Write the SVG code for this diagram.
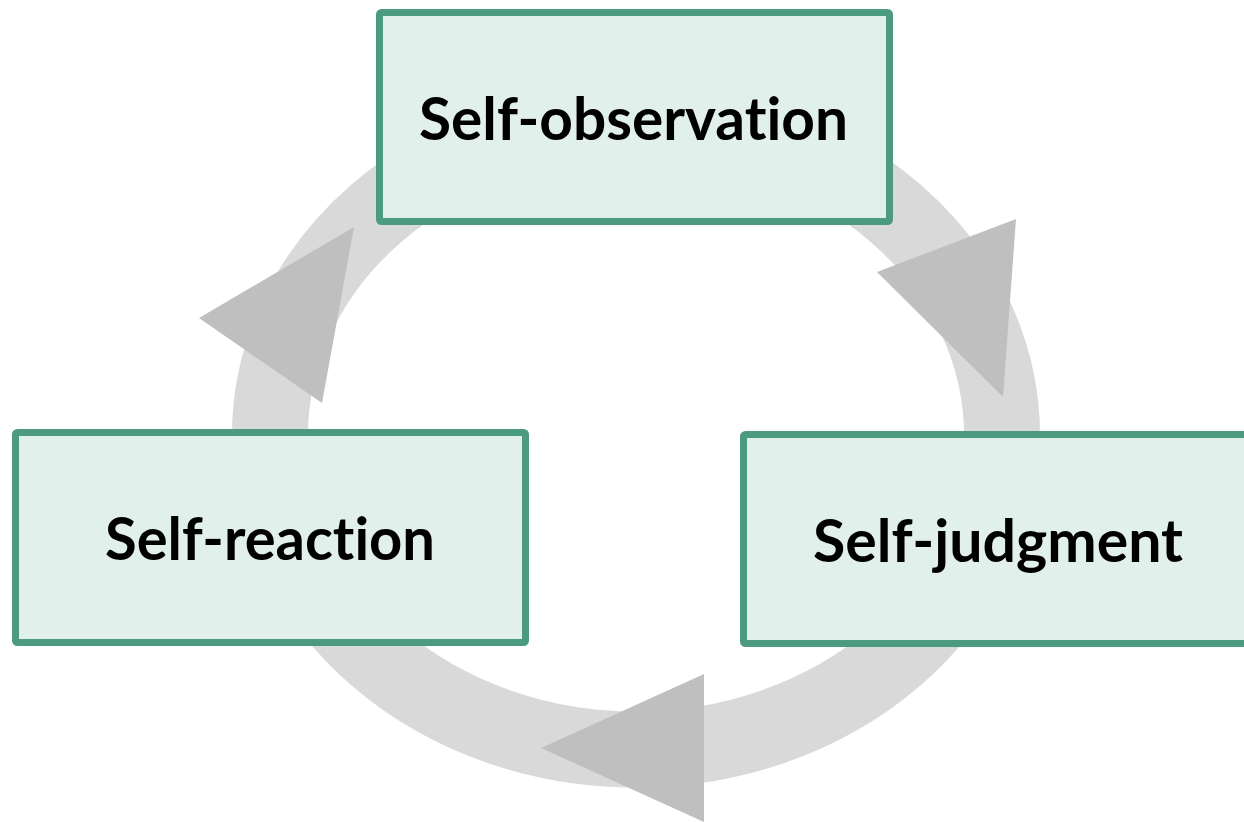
<svg xmlns="http://www.w3.org/2000/svg" width="1244" height="822" viewBox="0 0 1244 822">
<style>
.box{fill:#E1F0EB;stroke:#4C9A80;stroke-width:7}
.lbl{font-family:Lato,"Open Sans","Liberation Sans",sans-serif;font-weight:bold;font-size:59px;fill:#000;text-anchor:middle;font-variant-ligatures:none}
.ring{fill:none;stroke:#D9D9D9;stroke-width:76}
.head{fill:#BFBFBF}
</style>
<rect width="1244" height="822" fill="#FFFFFF"/>
<g id="connectors">
<ellipse class="ring" cx="636" cy="435" rx="366" ry="314.5"/>
<polygon class="head" points="1016,219 877,272 1003,397"/>
<polygon class="head" points="704,674 541,748 704,822"/>
<polygon class="head" points="354,227 199,318 322,403"/>
</g>
<g id="node-self-observation">
<rect class="box" x="379.5" y="12.5" width="510" height="209" rx="2"/>
<text class="lbl" x="633.5" y="140" textLength="429" lengthAdjust="spacingAndGlyphs">Self-observation</text>
</g>
<g id="node-self-reaction">
<rect class="box" x="15.5" y="432.5" width="510" height="210" rx="2"/>
<text class="lbl" x="270" y="560" textLength="330" lengthAdjust="spacingAndGlyphs">Self-reaction</text>
</g>
<g id="node-self-judgment">
<rect class="box" x="743.5" y="434.5" width="520" height="209" rx="2"/>
<text class="lbl" x="998" y="562" textLength="370" lengthAdjust="spacingAndGlyphs">Self-judgment</text>
</g>
</svg>
